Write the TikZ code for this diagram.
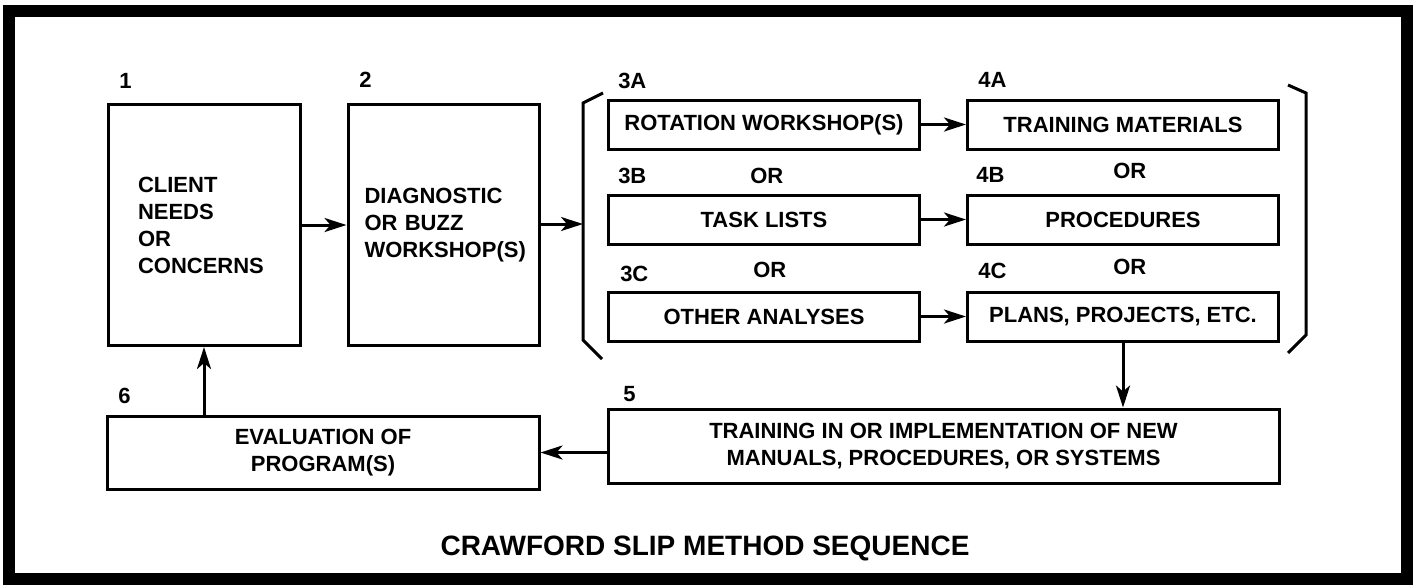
\documentclass[tikz,border=0pt]{standalone}
\usepackage{fontspec}
\setmainfont{Liberation Sans}
\usetikzlibrary{arrows.meta}

\tikzset{every picture/.style={line width=0.75pt}}

\begin{document}
\begin{tikzpicture}[x=0.5pt,y=0.5pt,yscale=-1,xscale=1,
  box/.style={draw, line width=1.5pt, inner sep=0pt, align=center, font=\fontsize{11}{13.5}\selectfont\bfseries},
  slip/.style={box, minimum width=155.5pt, minimum height=24.5pt},
  tag/.style={anchor=west, inner sep=0.75pt, font=\fontsize{11}{13}\selectfont\bfseries},
  flow/.style={line width=1.5pt, -{Stealth[length=11pt,width=7pt,inset=3pt]}}]
%set diagram left start at 0, and has height of 586
\useasboundingbox (0,0) rectangle (1416,586);

%Shape: Frame
\draw [line width=6pt] (9,11) rectangle (1407,579);

%Shape: Rectangle [client]
\node [box, minimum width=96pt, minimum height=120.5pt, text width=66pt, align=left] (client) at (204,225) {CLIENT\\NEEDS\\OR\\CONCERNS};
%Shape: Rectangle [diagnostic]
\node [box, minimum width=95.5pt, minimum height=120.5pt, text width=79pt, align=left] (diag) at (443.5,225) {DIAGNOSTIC\\OR BUZZ\\WORKSHOP(S)};

%Shape: Rectangles [3A..3C, 4A..4C]
\node [slip] (rot) at (764,124.5) {ROTATION WORKSHOP(S)};
\node [slip] (train) at (1123,124.5) {TRAINING MATERIALS};
\node [slip] (task) at (764,219.5) {TASK LISTS};
\node [slip] (proc) at (1123,219.5) {PROCEDURES};
\node [slip] (other) at (764,316.5) {OTHER ANALYSES};
\node [slip] (plans) at (1123,316.5) {PLANS, PROJECTS, ETC.};

%Shape: Rectangle [implementation]
\node [box, minimum width=335.5pt, minimum height=37pt] (impl) at (943.5,446) {TRAINING IN OR IMPLEMENTATION OF NEW\\MANUALS, PROCEDURES, OR SYSTEMS};
%Shape: Rectangle [evaluation]
\node [box, minimum width=216pt, minimum height=36.5pt] (eval) at (323,452.5) {EVALUATION OF\\PROGRAM(S)};

%Shape: Brackets
\draw [line width=1.5pt] (603,93) -- (583,103) -- (583,340) -- (602,359);
\coordinate (lbr) at (583,224);
\draw [line width=1.5pt] (1288,85) -- (1306,93) -- (1306,335) -- (1288,353);

%Straight Lines
\draw [flow] (client) -- (diag);
\draw [flow] (diag.east |- lbr) -- (lbr);
\draw [flow] (rot) -- (train);
\draw [flow] (task) -- (proc);
\draw [flow] (other) -- (plans);
\draw [flow] (plans.south) -- (plans.south |- impl.north);
\draw [flow] (impl.west |- eval.east) -- (eval.east);
\draw [flow] (client.south |- eval.north) -- (client.south);

% Text Node
\node [tag] (n1) at (117,81) {1};
\node [tag] (n2) at (357,80) {2};
\node [tag] (n3a) at (616,81) {3A};
\node [tag] (n4a) at (976,80) {4A};
\node [tag] (n3b) at (616,176) {3B};
\node [tag] (or3b) at (748,176) {OR};
\node [tag] (n4b) at (974,175) {4B};
\node [tag] (or4b) at (1111,171) {OR};
\node [tag] (n3c) at (618,274) {3C};
\node [tag] (or3c) at (751,270) {OR};
\node [tag] (n4c) at (976,271) {4C};
\node [tag] (or4c) at (1111,267) {OR};
\node [tag] (n5) at (621,394) {5};
\node [tag] (n6) at (116,396) {6};
% Text Node
\node [font=\fontsize{14}{16}\selectfont\bfseries] (title) at (705,548) {CRAWFORD SLIP METHOD SEQUENCE};

\end{tikzpicture}
\end{document}
